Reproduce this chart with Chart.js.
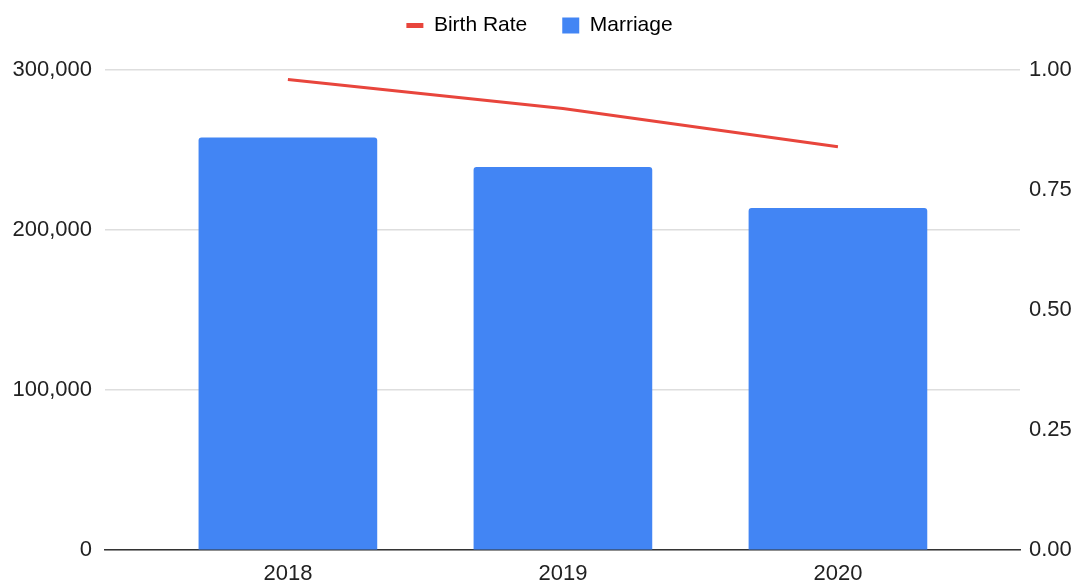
<!DOCTYPE html>
<html>
<head>
<meta charset="utf-8">
<script src="https://cdn.jsdelivr.net/npm/chart.js@4"></script>
<style>
  html, body { margin: 0; padding: 0; background: #fff; }
  #wrap { width: 1079px; height: 583px; }
</style>
</head>
<body>
<div id="wrap"><canvas id="chart"></canvas></div>
<script>
const years = ["2018", "2019", "2020"];
const marriage = [257622, 239159, 213502];
const birthRate = [0.98, 0.92, 0.84];
const leftTicks = [0, 100000, 200000, 300000];
const rightTicks = [0, 0.25, 0.5, 0.75, 1];

const blue = "#4285f4";
const red = "#e8453c";
const textColor = "#222";

Chart.defaults.font.family = "'Liberation Sans', Arial, sans-serif";
Chart.defaults.font.size = 22;
Chart.defaults.color = textColor;

// legend: fixed height, drawn higher than its padding would put it
const legendTweak = {
    id: "legendTweak",
    afterInit(chart) {
        const lg = chart.legend;
        const fit = lg.fit;
        lg.fit = function() {
            fit.apply(this, arguments);
            this.height = 70;
        };
        const draw = lg.draw;
        lg.draw = function() {
            const c = this.ctx;
            c.save();
            c.translate(0, -20);
            draw.apply(this, arguments);
            c.restore();
        };
    },
};

const ctx = document.getElementById("chart").getContext("2d");
const chart = new Chart(ctx, {
    type: "bar",
    data: {
        datasets: [{
                type: "line",
                label: "Birth Rate",
                data: birthRate.map((v, i) => ({ x: i, y: v })),
                borderColor: red,
                backgroundColor: red,
                borderWidth: 3,
                pointRadius: 0,
                tension: 0,
                yAxisID: "y1",
                order: 0,
            },
            {
                type: "bar",
                label: "Marriage",
                data: marriage.map((v, i) => ({ x: i, y: v })),
                backgroundColor: blue,
                borderRadius: 3,
                borderSkipped: "bottom",
                barThickness: 178,
                yAxisID: "y",
                order: 1,
            },
        ],
    },
    plugins: [legendTweak],
    options: {
        responsive: true,
        maintainAspectRatio: false,
        animation: false,
        layout: { padding: 0 },
        plugins: {
            tooltip: { enabled: false },
            legend: {
                position: "top",
                align: "center",
                labels: {
                    usePointStyle: true,
                    pointStyleWidth: 17,
                    boxHeight: 16,
                    padding: 35,
                    font: { size: 21 },
                    color: textColor,
                    generateLabels(chart) {
                        return chart.data.datasets.map((ds, i) => ({
                            text: ds.label,
                            datasetIndex: i,
                            fillStyle: ds.type === "line" ? red : blue,
                            strokeStyle: ds.type === "line" ? red : blue,
                            lineWidth: ds.type === "line" ? 5 : 0,
                            pointStyle: ds.type === "line" ? "line" : "rect",
                            hidden: false,
                        }));
                    },
                },
            },
        },
        scales: {
            x: {
                type: "linear",
                offset: false,
                min: -0.665,
                max: 2.662,
                afterBuildTicks(scale) {
                    scale.ticks = years.map((y, i) => ({ value: i }));
                },
                afterFit(scale) {
                    scale.height = 33;
                },
                ticks: {
                    padding: 11,
                    autoSkip: false,
                    maxRotation: 0,
                    callback: (v) => years[v],
                },
                grid: { display: false, drawTicks: false, offset: false },
                border: { display: true, color: "#333", width: 1.5 },
            },
            y: {
                position: "left",
                min: 0,
                max: 300000,
                afterBuildTicks(scale) {
                    scale.ticks = leftTicks.map((v) => ({ value: v }));
                },
                afterFit(scale) {
                    scale.width = 105;
                },
                ticks: {
                    padding: 13,
                    callback: (v) => v.toLocaleString("en-US"),
                },
                grid: {
                    color: "#dedede",
                    lineWidth: 1.5,
                    drawTicks: false,
                },
                border: { display: false },
            },
            y1: {
                position: "right",
                min: 0,
                max: 1,
                afterBuildTicks(scale) {
                    scale.ticks = rightTicks.map((v) => ({ value: v }));
                },
                afterFit(scale) {
                    scale.width = 59;
                },
                ticks: {
                    padding: 9,
                    callback: (v) => v.toFixed(2),
                },
                grid: { display: false, drawTicks: false },
                border: { display: false },
            },
        },
    },
});
</script>
</body>
</html>
